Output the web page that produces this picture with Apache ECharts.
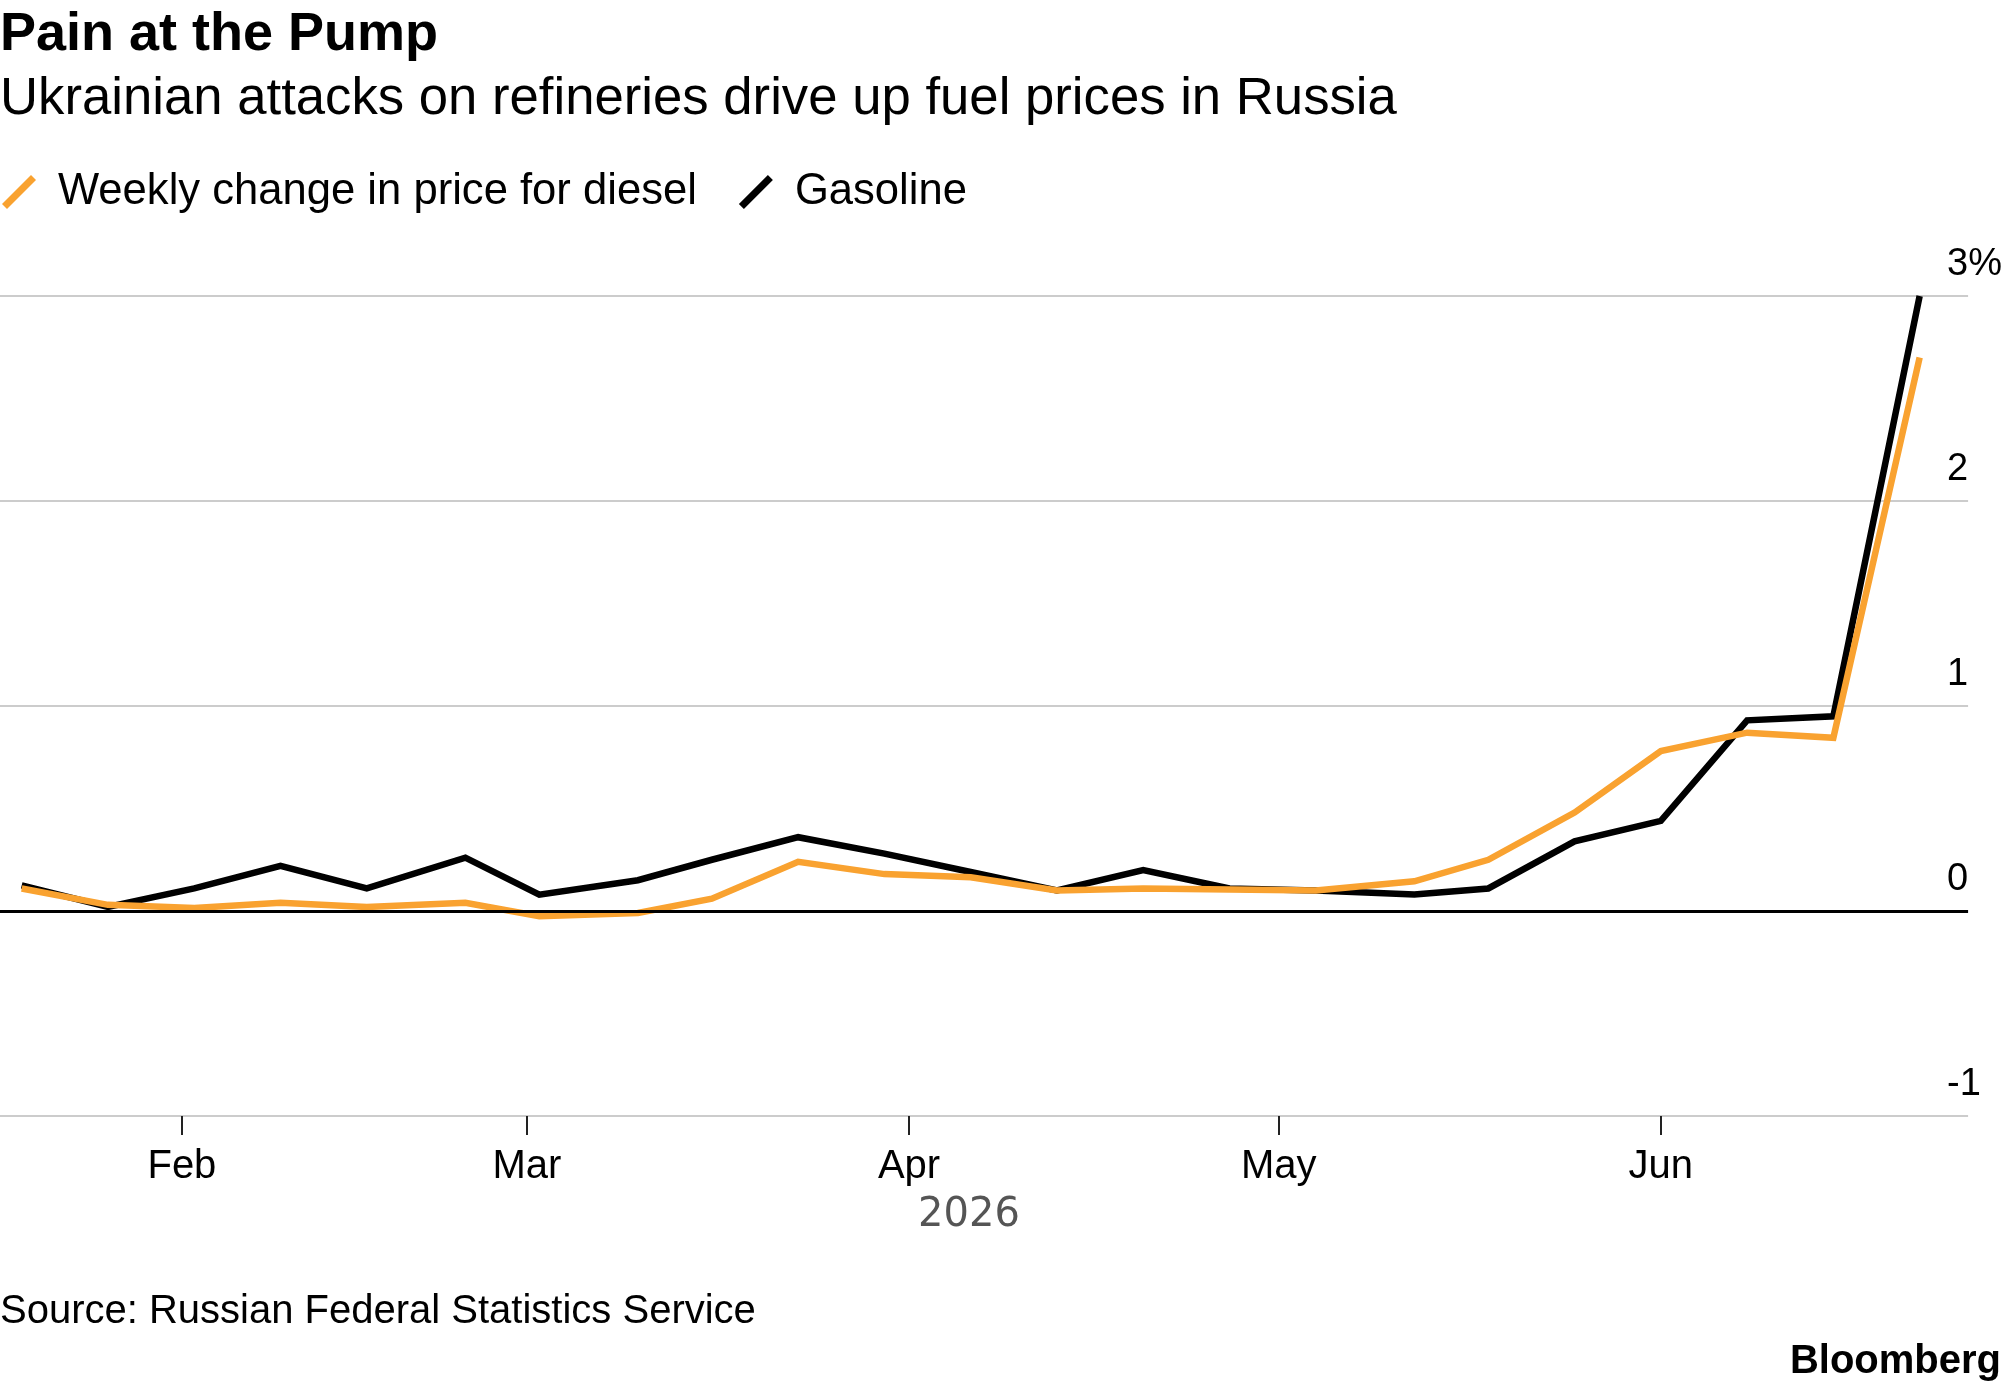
<!DOCTYPE html>
<html>
<head>
<meta charset="utf-8">
<title>Pain at the Pump</title>
<script src="https://cdn.jsdelivr.net/npm/echarts@6/dist/echarts.min.js"></script>
<style>
  html, body { margin: 0; padding: 0; background: #ffffff; }
  #chart { width: 2005px; height: 1392px; }
</style>
</head>
<body>
<div id="chart"></div>
<script>
// weekly readings (Rosstat release dates, shifted around holidays)
const dates = [
  '2026-01-19', '2026-01-26', '2026-02-02', '2026-02-09', '2026-02-16', '2026-02-24',
  '2026-03-02', '2026-03-10', '2026-03-16', '2026-03-23', '2026-03-30', '2026-04-06',
  '2026-04-13', '2026-04-20', '2026-04-27', '2026-05-04', '2026-05-12', '2026-05-18',
  '2026-05-25', '2026-06-01', '2026-06-08', '2026-06-15', '2026-06-22'
];
const diesel = [
  0.11, 0.03, 0.015, 0.04, 0.02, 0.04,
  -0.025, -0.01, 0.06, 0.24, 0.18, 0.165,
  0.10, 0.11, 0.105, 0.10, 0.145, 0.25,
  0.48, 0.78, 0.87, 0.845, 2.70
];
const gasoline = [
  0.125, 0.02, 0.11, 0.22, 0.11, 0.26,
  0.08, 0.15, 0.25, 0.36, 0.28, 0.19,
  0.10, 0.20, 0.11, 0.10, 0.08, 0.11,
  0.34, 0.44, 0.93, 0.95, 3.00
];
const seriesNames = ['Weekly change in price for diesel', 'Gasoline'];
const monthTicks = ['2026-02-01', '2026-03-01', '2026-04-01', '2026-05-01', '2026-06-01'];
const monthLabels = ['Feb', 'Mar', 'Apr', 'May', 'Jun'];
const yearLabel = '2026';
const yTicks = [-1, 0, 1, 2, 3];

const FONT = '"Liberation Sans", Arial, Helvetica, sans-serif';
const ORANGE = '#f9a230';
const DAY = 864e5;

function toTime(s) {
  const p = s.split('-').map(Number);
  return Date.UTC(p[0], p[1] - 1, p[2]);
}

const monthTimes = monthTicks.map(toTime);
const feb1 = monthTimes[0];
const slash = 'path://M0,29L29,0L34,5L5,34Z';

const chart = echarts.init(document.getElementById('chart'), null, { renderer: 'canvas' });

const option = {
  animation: false,
  backgroundColor: '#ffffff',
  textStyle: { fontFamily: FONT },
  grid: { left: 0, right: 36, top: 296, bottom: 276, containLabel: false },
  legend: {
    left: 2,
    top: 170,
    padding: 0,
    itemWidth: 34,
    itemHeight: 34,
    itemGap: 42,
    selectedMode: false,
    data: [
      { name: seriesNames[0], icon: slash },
      { name: seriesNames[1], icon: slash }
    ],
    textStyle: { fontSize: 43.6, color: '#000', fontFamily: FONT, padding: [0, 0, 0, 17] }
  },
  xAxis: {
    type: 'value',
    min: feb1 - 14.76 * DAY,
    max: feb1 + 144.93 * DAY,
    axisLine: { show: false, onZero: false },
    splitLine: { show: false },
    axisTick: {
      show: true,
      customValues: monthTimes,
      length: 19,
      lineStyle: { color: '#222', width: 2 }
    },
    axisLabel: {
      customValues: monthTimes,
      fontSize: 40,
      lineHeight: 40,
      margin: 31,
      color: '#000',
      fontFamily: FONT,
      formatter: function (v) {
        const i = monthTimes.indexOf(v);
        return i >= 0 ? monthLabels[i] : '';
      }
    }
  },
  yAxis: {
    type: 'value',
    position: 'right',
    min: yTicks[0],
    max: yTicks[yTicks.length - 1],
    interval: 1,
    axisLine: { show: false },
    axisTick: { show: false },
    splitLine: { show: true, lineStyle: { color: '#cccccc', width: 2 } },
    axisLabel: {
      inside: true,
      align: 'left',
      verticalAlign: 'bottom',
      lineHeight: 62,
      margin: 21,
      fontSize: 38,
      color: '#000',
      fontFamily: FONT,
      formatter: function (v) {
        return v === yTicks[yTicks.length - 1] ? v + '%' : String(v);
      }
    }
  },
  series: [
    {
      name: seriesNames[1],
      type: 'line',
      data: dates.map((d, i) => [toTime(d), gasoline[i]]),
      showSymbol: false,
      symbol: 'none',
      color: '#000000',
      lineStyle: { color: '#000000', width: 6.5, join: 'miter' },
      z: 3,
      markLine: {
        silent: true,
        symbol: 'none',
        label: { show: false },
        lineStyle: { color: '#000000', width: 3, type: 'solid' },
        data: [{ yAxis: 0 }]
      }
    },
    {
      name: seriesNames[0],
      type: 'line',
      data: dates.map((d, i) => [toTime(d), diesel[i]]),
      showSymbol: false,
      symbol: 'none',
      color: ORANGE,
      lineStyle: { color: ORANGE, width: 6.5, join: 'miter' },
      z: 4
    }
  ],
  graphic: [
    {
      type: 'text', x: 0, y: 35,
      style: { text: 'Pain at the Pump', font: 'bold 54px ' + FONT, fill: '#000', align: 'left', verticalAlign: 'middle' }
    },
    {
      type: 'text', x: 0, y: 99,
      style: { text: 'Ukrainian attacks on refineries drive up fuel prices in Russia', font: '52.7px ' + FONT, fill: '#000', align: 'left', verticalAlign: 'middle' }
    },
    {
      type: 'text', x: 969, y: 1216,
      style: { text: yearLabel, font: '40px "DejaVu Sans", sans-serif', fill: '#555', align: 'center', verticalAlign: 'middle' }
    },
    {
      type: 'text', x: 0, y: 1312,
      style: { text: 'Source: Russian Federal Statistics Service', font: '40px ' + FONT, fill: '#000', align: 'left', verticalAlign: 'middle' }
    },
    {
      type: 'text', x: 2001, y: 1362,
      style: { text: 'Bloomberg', font: 'bold 40px ' + FONT, fill: '#000', align: 'right', verticalAlign: 'middle' }
    }
  ]
};

chart.setOption(option);
</script>
</body>
</html>
